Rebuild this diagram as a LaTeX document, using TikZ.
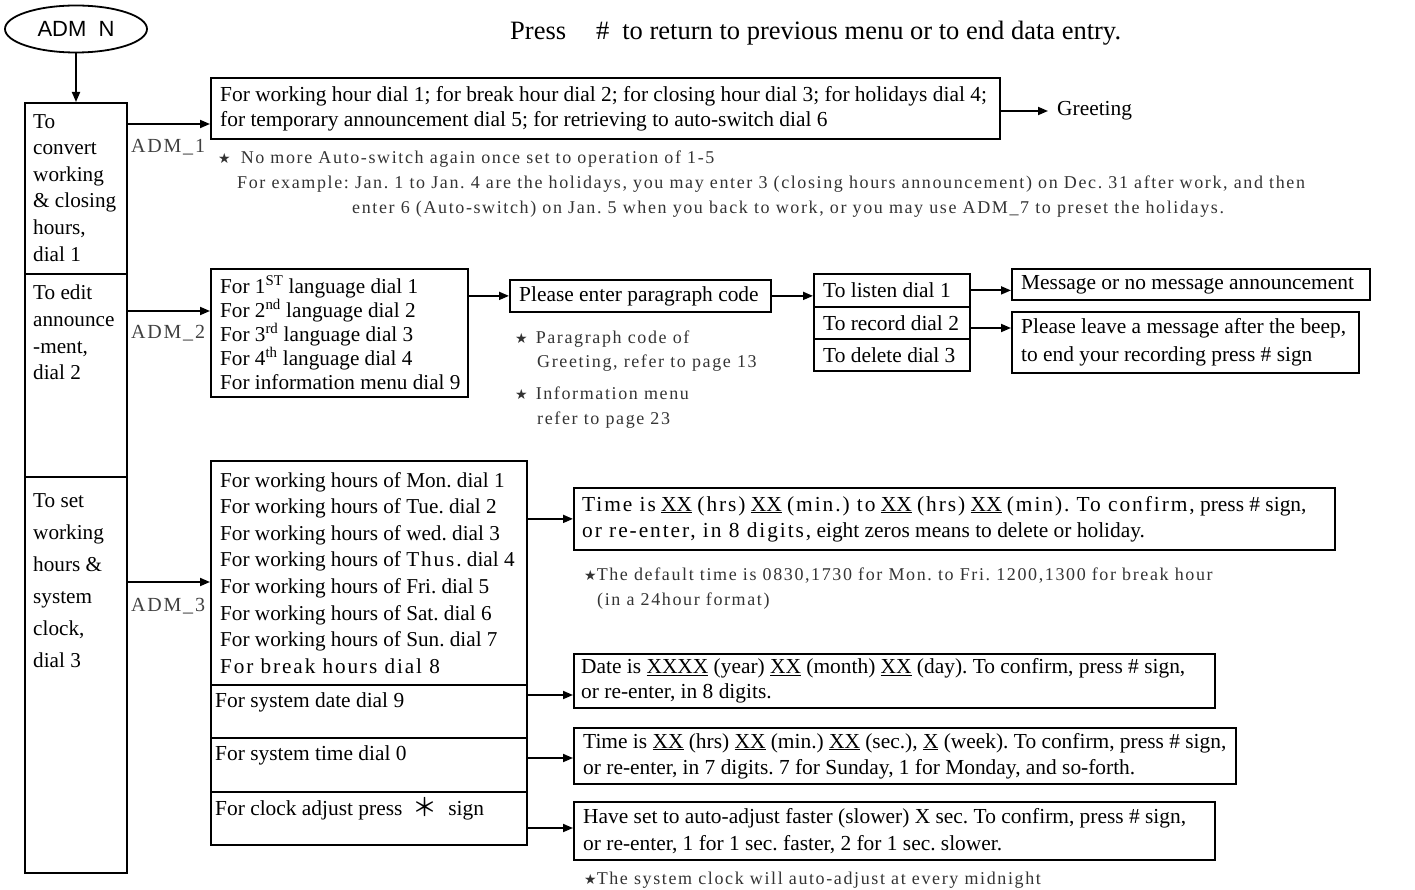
\documentclass[tikz,border=0pt]{standalone}
\usepackage{fontspec}
\usepackage{graphicx}
\setmainfont{Liberation Serif}
\newfontfamily\spacedfont[LetterSpace=9]{Liberation Serif}
\newfontfamily\ovalfont{Liberation Sans}
\newfontfamily\symfont{DejaVu Sans}
\newfontfamily\cjkfont{Noto Sans CJK SC}
\usetikzlibrary{arrows.meta,shapes.geometric}

\newcommand{\bodysize}{\fontsize{21.4}{25}\selectfont}
\newcommand{\notesize}{\fontsize{18}{25}\selectfont}
\newcommand{\spaced}[1]{{\spacedfont #1}}
\newcommand{\starmark}{{\symfont\fontsize{14}{14}\selectfont ★}}
\newcommand{\ux}[1]{\underline{#1}}

\begin{document}
\frenchspacing
\begin{tikzpicture}[x=1pt,y=-1pt,
  frame/.style={draw, line width=1.8pt, inner sep=0pt, anchor=north west},
  txt/.style={inner sep=0pt, anchor=west, align=left, font=\bodysize},
  coltext/.style={inner sep=0pt, anchor=north west, align=left, font=\fontsize{21.2}{26.6}\selectfont},
  note/.style={inner sep=0pt, anchor=base west, font=\spacedfont\notesize, text=black!80},
  admlab/.style={inner sep=0pt, anchor=base west, font=\spacedfont\fontsize{20}{24}\selectfont, text=black!75},
  arr/.style={-{Triangle[length=10pt,width=8pt]}, line width=1.8pt},
]
\useasboundingbox (0,0) rectangle (1415,890);

% heading line
\node[anchor=base west, inner sep=0pt, font=\fontsize{26.5}{30}\selectfont] (hint) at (510,40)
  {Press\hspace{30pt}\#\hspace{13pt}to return to previous menu or to end data entry.};

% entry point
\node[draw, ellipse, line width=1.8pt, minimum width=142pt, minimum height=47pt, inner sep=0pt,
      font=\ovalfont\fontsize{22}{26}\selectfont] (start) at (76,29) {ADM\ \ N};

% main menu column
\node[frame, minimum width=102pt, minimum height=171pt] (colA) at (24,102) {};
\node[frame, minimum width=102pt, minimum height=203pt] (colB) at (24,273) {};
\node[frame, minimum width=102pt, minimum height=396pt] (colC) at (24,476) {};
\node[coltext] (colAtext) at (33,114) {To\\convert\\working\\\& closing\\hours,\\dial 1};
\node[coltext] (colBtext) at (33,285) {To edit\\announce\\-ment,\\dial 2};
\node[coltext, font=\fontsize{21.2}{32}\selectfont] (colCtext) at (33,493)
  {To set\\working\\hours \&\\system\\clock,\\dial 3};

\draw[arr] (start.south) -- (start.south |- colA.north);

% ADM_1 branch
\node[admlab] (lab1) at (131,153) {ADM\_1};
\node[frame, minimum width=789pt, minimum height=61pt] (box1) at (210,77) {};
\node[txt] (box1t) at ([xshift=10pt]box1.west)
  {For working hour dial 1; for break hour dial 2; for closing hour dial 3; for holidays dial 4;\\
   for temporary announcement dial 5; for retrieving to auto-switch dial 6};
\node[inner sep=0pt, inner xsep=9pt, anchor=west, font=\bodysize] (greet) at (1048,111) {Greeting};
\coordinate (y1) at (0,124);
\draw[arr] (colA.east |- y1) -- (box1.west |- y1);
\draw[arr] (box1.east |- greet.west) -- (greet.west);

\node[note] (n1) at (218,164) {\starmark\hspace{10pt}No more Auto-switch again once set to operation of 1-5};
\node[note] (n2) at (237,189) {For example: Jan. 1 to Jan. 4 are the holidays, you may enter 3 (closing hours announcement) on Dec. 31 after work, and then};
\node[note] (n3) at (352,214) {enter 6 (Auto-switch) on Jan. 5 when you back to work, or you may use ADM\_7 to preset the holidays.};

% ADM_2 branch
\node[admlab] (lab2) at (131,338) {ADM\_2};
\node[frame, minimum width=257pt, minimum height=128pt] (box2) at (210,268) {};
\node[txt, font=\fontsize{21.2}{24}\selectfont] (box2t) at ([xshift=10pt]box2.west)
  {For 1\textsuperscript{ST} language dial 1\\
   For 2\textsuperscript{nd} language dial 2\\
   For 3\textsuperscript{rd} language dial 3\\
   For 4\textsuperscript{th} language dial 4\\
   For information menu dial 9};
\node[frame, minimum width=261pt, minimum height=32pt] (box3) at (509,279) {};
\node[txt] (box3t) at ([xshift=10pt]box3.west) {Please enter paragraph code};
\node[frame, minimum width=156pt, minimum height=33pt] (stack1) at (813,273) {};
\node[frame, minimum width=156pt, minimum height=32pt] (stack2) at (813,306) {};
\node[frame, minimum width=156pt, minimum height=32pt] (stack3) at (813,338) {};
\node[txt] (stack1t) at ([xshift=10pt]stack1.west) {To listen dial 1};
\node[txt] (stack2t) at ([xshift=10pt]stack2.west) {To record dial 2};
\node[txt] (stack3t) at ([xshift=10pt]stack3.west) {To delete dial 3};
\node[frame, minimum width=358pt, minimum height=31pt] (box5) at (1011,268) {};
\node[txt] (box5t) at ([xshift=10pt]box5.west) {Message or no message announcement};
\node[frame, minimum width=347pt, minimum height=61pt] (box6) at (1011,311) {};
\node[txt, font=\fontsize{21.4}{28}\selectfont] (box6t) at ([xshift=10pt]box6.west)
  {Please leave a message after the beep,\\to end your recording press \# sign};

\coordinate (y2) at (0,311);
\draw[arr] (colB.east |- y2) -- (box2.west |- y2);
\draw[arr] (box2.east |- box3.west) -- (box3.west);
\draw[arr] (box3.east) -- (box3.east -| stack1.west);
\draw[arr] (stack1.east) -- (stack1.east -| box5.west);
\coordinate (y4) at (0,328);
\draw[arr] (stack2.east |- y4) -- (box6.west |- y4);

\node[note] (n4) at (515,343) {\starmark\hspace{8pt}Paragraph code of};
\node[note] (n5) at (537,367) {Greeting, refer to page 13};
\node[note] (n6) at (515,399) {\starmark\hspace{8pt}Information menu};
\node[note] (n7) at (537,424) {refer to page 23};

% ADM_3 branch
\node[admlab] (lab3) at (131,611) {ADM\_3};
\node[frame, minimum width=316pt, minimum height=224pt] (cell1) at (210,460) {};
\node[frame, minimum width=316pt, minimum height=53pt] (cell2) at (210,684) {};
\node[frame, minimum width=316pt, minimum height=54pt] (cell3) at (210,737) {};
\node[frame, minimum width=316pt, minimum height=53pt] (cell4) at (210,791) {};
\node[txt, font=\fontsize{21.2}{26.6}\selectfont] (cell1t) at ([xshift=10pt]cell1.west)
  {For working hours of Mon. dial 1\\
   For working hours of Tue. dial 2\\
   For working hours of wed. dial 3\\
   For working hours of \spaced{Thus.} dial 4\\
   For working hours of Fri. dial 5\\
   For working hours of Sat. dial 6\\
   For working hours of Sun. dial 7\\
   \spaced{For break hours dial 8}};
\node[txt, anchor=base west] (cell2t) at (215,707) {For system date dial 9};
\node[txt, anchor=base west] (cell3t) at (215,760) {For system time dial 0};
\node[txt, anchor=base west] (cell4t) at (215,815)
  {For clock adjust press\hspace{10pt}\raisebox{-1.5pt}{\cjkfont\fontsize{25}{25}\selectfont ＊}\hspace{11pt}sign};

\node[frame, minimum width=761pt, minimum height=62pt] (box8) at (573,487) {};
\node[txt, font=\fontsize{21.4}{26}\selectfont] (box8t) at ([xshift=9pt]box8.west)
  {\spaced{Time is} \ux{XX} \spaced{(hrs)} \ux{XX} \spaced{(min.) to} \ux{XX} \spaced{(hrs)} \ux{XX} \spaced{(min). To confirm,} press \# sign,\\
   \spaced{or re-enter, in 8 digits,} eight zeros means to delete or holiday.};
\node[note] (n8) at (584,580) {\starmark The default time is 0830,1730 for Mon. to Fri. 1200,1300 for break hour};
\node[note] (n9) at (597,605) {(in a 24hour format)};

\node[frame, minimum width=641pt, minimum height=54pt] (box9) at (573,653) {};
\node[txt] (box9t) at ([xshift=8pt]box9.west)
  {Date is \ux{XXXX} (year) \ux{XX} (month) \ux{XX} (day). To confirm, press \# sign,\\
   or re-enter, in 8 digits.};
\node[frame, minimum width=662pt, minimum height=56pt] (box10) at (573,727) {};
\node[txt, font=\fontsize{21.4}{26}\selectfont] (box10t) at ([xshift=10pt]box10.west)
  {Time is \ux{XX} (hrs) \ux{XX} (min.) \ux{XX} (sec.), \ux{X} (week). To confirm, press \# sign,\\
   or re-enter, in 7 digits. 7 for Sunday, 1 for Monday, and so-forth.};
\node[frame, minimum width=641pt, minimum height=58pt] (box11) at (573,801) {};
\node[txt, font=\fontsize{21.4}{27}\selectfont] (box11t) at ([xshift=10pt]box11.west)
  {Have set to auto-adjust faster (slower) X sec. To confirm, press \# sign,\\
   or re-enter, 1 for 1 sec. faster, 2 for 1 sec. slower.};
\node[note] (n10) at (584,884) {\starmark The system clock will auto-adjust at every midnight};

\coordinate (y3) at (0,582);
\draw[arr] (colC.east |- y3) -- (cell1.west |- y3);
\draw[arr] (cell1.east |- box8.west) -- (box8.west);
\coordinate (y5) at (0,695);
\draw[arr] (cell2.east |- y5) -- (box9.west |- y5);
\coordinate (y6) at (0,758);
\draw[arr] (cell3.east |- y6) -- (box10.west |- y6);
\coordinate (y7) at (0,828);
\draw[arr] (cell4.east |- y7) -- (box11.west |- y7);
\end{tikzpicture}
\end{document}
